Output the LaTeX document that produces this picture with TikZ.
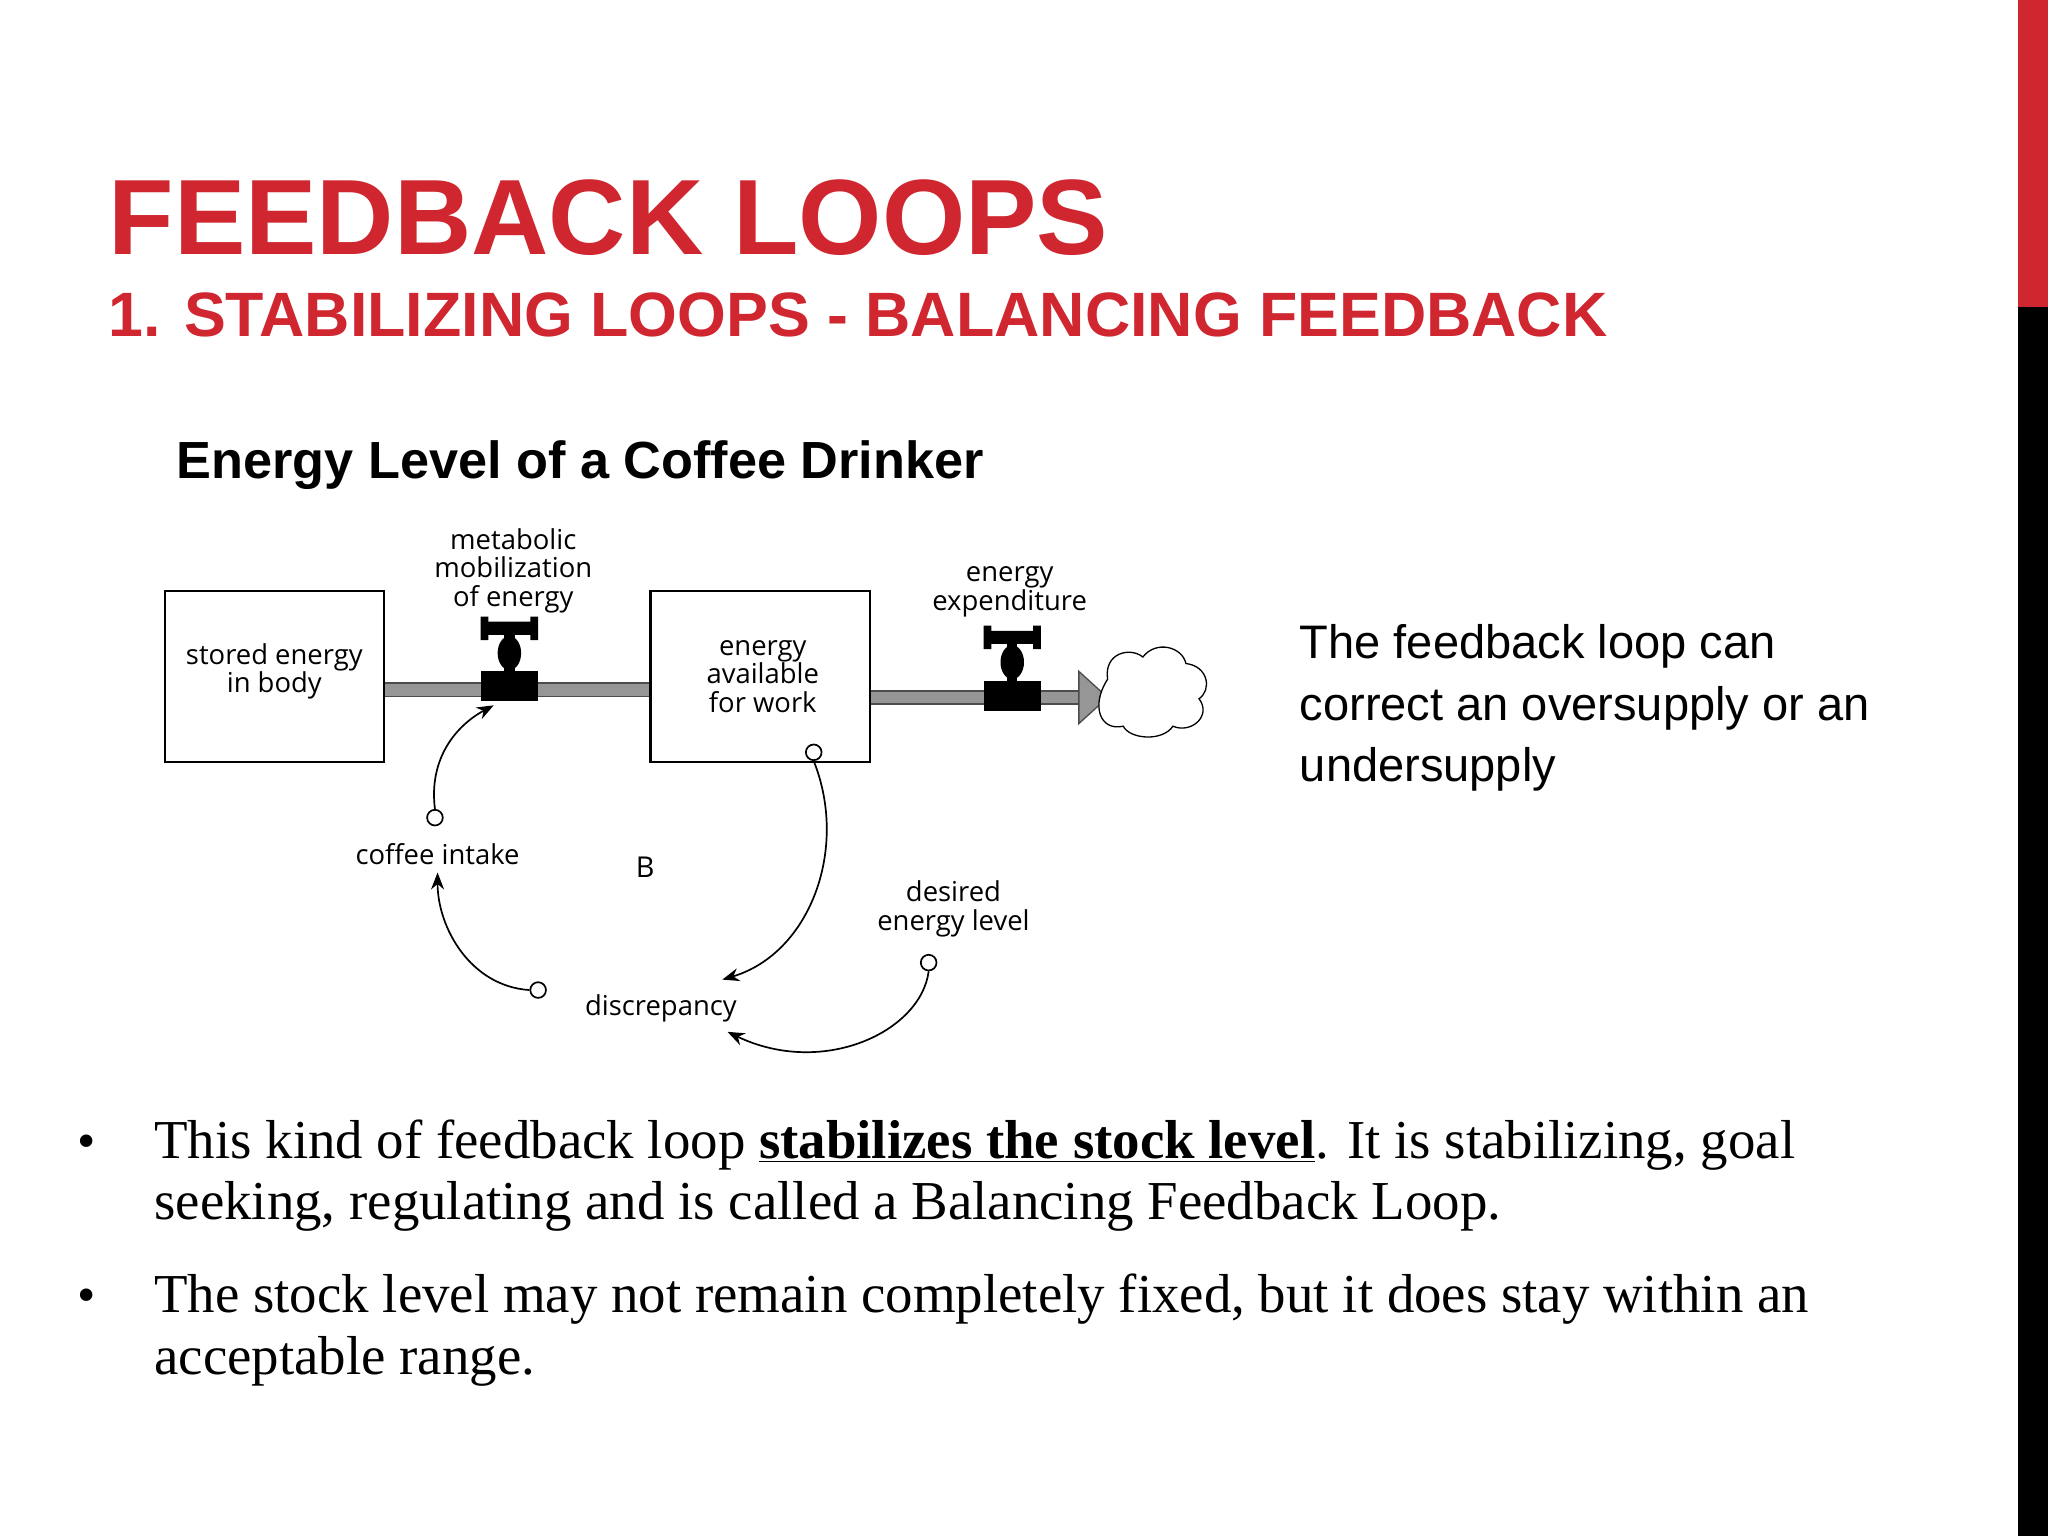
\documentclass[tikz,border=0pt]{standalone}
\usepackage{fontspec}
\setmainfont{Liberation Serif}
\newfontfamily\hsans{Liberation Sans}
\newfontfamily\dfont{Open Sans}
\usetikzlibrary{arrows.meta}
\definecolor{tred}{RGB}{208,38,48}
\definecolor{pipeg}{RGB}{150,150,150}
\begin{document}
\begin{tikzpicture}[x=1pt,y=-1pt,
  dlabel/.style={font=\dfont\fontsize{21}{22}\selectfont,align=center,inner sep=0},
  stock/.style={draw,line width=1.6pt,minimum width=168pt,minimum height=131pt,inner sep=0},
  link/.style={line width=1.3pt,-{Stealth[length=13pt,width=10pt]}},
  tail/.style={draw,line width=1.3pt,circle,minimum size=12pt,inner sep=0,fill=white},
  fsize/.style={font=\fontsize{#1}{#1}\selectfont}]
\useasboundingbox (0,0) rectangle (1568,1176);
\fill[white] (0,0) rectangle (1568,1176);
\fill[tred] (1545,0) rectangle (1568,235);
\fill[black] (1545,235) rectangle (1568,1176);
% titles
\node[anchor=base west,inner sep=0,text=tred,font=\hsans\bfseries\fontsize{82}{82}\selectfont] (t1) at (83,195) {FEEDBACK LOOPS};
\node[anchor=base west,inner sep=0,text=tred,font=\hsans\bfseries\fontsize{48}{48}\selectfont] (t2) at (83,258) {1. STABILIZING LOOPS - BALANCING FEEDBACK};
\node[anchor=base west,inner sep=0,font=\hsans\bfseries\fontsize{40}{40}\selectfont] (t3) at (135,366) {Energy Level of a Coffee Drinker};
% pipes
\fill[pipeg] (294,523) rectangle (498,533);
\draw[line width=1pt,black!70] (294,523) -- (498,523) (294,533)--(498,533);
\fill[pipeg] (666,529) rectangle (828,539);
\draw[line width=1pt,black!70] (666,529) -- (828,529) (666,539)--(828,539);
\fill[pipeg,draw=black!70,line width=1pt] (826,514) -- (848,534) -- (826,554) -- cycle;
% stocks
\node[stock,fill=white] (s1) at (210,518) {};
\node[dlabel] at (210,514) {stored energy\\in body};
\node[stock,fill=white] (s2) at (582,518) {};
\node[dlabel] at (584,518) {energy\\available\\for work};
% valves
\foreach \vx/\vy/\nm in {390/0/v1,775/7/v2}{
  \begin{scope}[shift={(\vx,\vy)}]
  \fill (-22,514) rectangle (22,537);
  \fill (-4,480) rectangle (4,514);
  \fill (0,500) ellipse (9pt and 13pt);
  \fill[rounded corners=3pt] (-20,476) rectangle (20,486);
  \fill (-22,472) rectangle (-16,490) (16,472) rectangle (22,490);
  \coordinate (\nm) at (-12,540);
  \end{scope}}
% cloud
\draw[line width=1pt,fill=white] (848,520) .. controls (845,500) and (865,495) .. (875,503)
  .. controls (885,490) and (905,495) .. (908,508)
  .. controls (925,510) and (928,528) .. (918,535)
  .. controls (928,548) and (912,562) .. (898,556)
  .. controls (890,568) and (865,566) .. (860,556)
  .. controls (842,560) and (835,540) .. (848,520) -- cycle;
% labels
\node[dlabel] (lm) at (393,437) {metabolic\\mobilization\\of energy};
\node[dlabel] (le) at (773,453) {energy\\expenditure};
\node[dlabel] (ci) at (335,654) {coffee intake};
\node[dlabel,font=\dfont\fontsize{22}{22}\selectfont] (B) at (494,664) {B};
\node[dlabel] (de) at (730,696) {desired\\energy level};
\node[dlabel] (di) at (506,772) {discrepancy};
% links
\node[tail] (c1) at (333,626) {};
\node[tail] (c2) at (623,576) {};
\node[tail] (c3) at (412,758) {};
\node[tail] (c4) at (711,737) {};
\draw[link] (c1.north) .. controls (328,580) and (350,555) .. (378,540);
\draw[link] (c2.south) .. controls (650,650) and (620,730) .. (553,750);
\draw[link] (c3.west) .. controls (360,755) and (335,710) .. (335,668);
\draw[link] (c4.south) .. controls (705,790) and (630,825) .. (557,790);
% right text
\node[anchor=north west,inner sep=0,align=left,font=\hsans\fontsize{36}{47}\selectfont] (rt) at (995,478) {The feedback loop can\\correct an oversupply or an\\undersupply};
% bullets
\node[anchor=base,inner sep=0,font=\fontsize{40}{40}\selectfont] (b1) at (66,887) {•};
\node[anchor=base west,inner sep=0,align=left,font=\fontsize{42}{47}\selectfont] (p1) at (118,887) {This kind of feedback loop \textbf{\underline{stabilizes the stock level}}. It is stabilizing, goal};
\node[anchor=base west,inner sep=0,font=\fontsize{42}{47}\selectfont] (p1b) at (118,934) {seeking, regulating and is called a Balancing Feedback Loop.};
\node[anchor=base,inner sep=0,font=\fontsize{40}{40}\selectfont] (b2) at (66,1005) {•};
\node[anchor=base west,inner sep=0,font=\fontsize{42}{47}\selectfont] (p2) at (118,1005) {The stock level may not remain completely fixed, but it does stay within an};
\node[anchor=base west,inner sep=0,font=\fontsize{42}{47}\selectfont] (p2b) at (118,1052) {acceptable range.};
\end{tikzpicture}
\end{document}
